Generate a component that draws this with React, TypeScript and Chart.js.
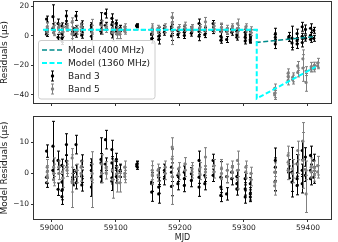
import React, { useEffect, useRef } from "react";
import { Chart, registerables } from "chart.js";
Chart.register(...registerables);

const FONT = "'DejaVu Sans', sans-serif";

const xTicks = [59000, 59100, 59200, 59300, 59400];
const topYTicks = [20, 0, -20, -40];
const botYTicks = [10, 0, -10];

const model400Mjd = [58987, 59320, 59320, 59412];
const model400Res = [4, 4, -4.5, -0.5];
const model1360Mjd = [58987, 59320, 59320, 59412];
const model1360Res = [4, 4, -42.4, -21];

const b3Mjd = [
  58992, 58992, 58992, 59002, 59002, 59010, 59010, 59016, 59016, 59016, 59016, 59023, 59023, 59033, 59033,
  59038, 59038, 59038, 59047, 59047, 59047, 59062, 59062, 59062, 59077, 59077, 59077, 59084, 59084,
  59094, 59094, 59094, 59094, 59101, 59101, 59101, 59107, 59107, 59133, 59133, 59133, 59156, 59156, 59156,
  59167, 59167, 59167, 59176, 59176, 59187, 59187, 59187, 59197, 59197, 59207, 59207, 59207, 59218, 59218,
  59230, 59230, 59230, 59239, 59239, 59252, 59252, 59264, 59264, 59264, 59273, 59273, 59281, 59281,
  59289, 59289, 59289, 59302, 59302, 59302, 59310, 59310, 59310, 59349, 59349, 59349, 59370, 59370,
  59375, 59375, 59383, 59383, 59383, 59391, 59391, 59391, 59396, 59396, 59404, 59404, 59404, 59409, 59409,
];
const b3Res = [
  11.2, 2.8, 1.0, 12.8, 5.0, 8.2, -1.1, 6.6, 1.2, -1.5, -3.5, 13.3, 8.0, 2.8, 2.0,
  13.3, 4.7, 1.0, 8.0, 3.1, 0.3, 6.7, 5.0, -0.4, 8.5, 7.4, 3.0, 14.9, 7.0,
  11.7, 7.4, 2.6, 1.5, 8.5, 5.8, 3.0, 4.7, 5.0, 7.0, 6.3, 6.8, 1.2, -2.0, 0.7,
  2.8, -0.4, -2.6, 5.0, 2.3, 6.0, 4.4, -0.2, 3.4, 0.7, 4.4, 2.3, 0.1, 3.9, 1.7,
  8.2, 2.8, -0.4, 3.4, 0.7, 8.2, 3.4, 2.8, -0.4, -3.1, 3.0, -2.6, 4.4, 2.3,
  3.0, 0.7, -1.0, 2.3, -1.0, -3.6, 0.7, -2.6, -3.6, 1.0, -1.2, -5.7, -0.8, -1.9,
  -1.6, -4.9, 1.4, -3.4, -5.6, 6.0, -0.4, -4.6, 4.2, -1.7, 5.0, 0.2, -2.5, 3.6, -1.8,
];
const b3ModelRes = [
  7.2, -1.2, -3.0, 8.8, 1.0, 4.2, -5.1, 2.6, -2.8, -5.5, -7.5, 9.3, 4.0, -1.2, -2.0,
  9.3, 0.7, -3.0, 4.0, -0.9, -3.7, 2.7, 1.0, -4.4, 4.5, 3.4, -1.0, 10.9, 3.0,
  7.7, 3.4, -1.4, -2.5, 4.5, 1.8, -1.0, 0.7, 1.0, 3.0, 2.3, 2.8, -2.8, -6.0, -3.3,
  -1.2, -4.4, -6.6, 1.0, -1.7, 2.0, 0.4, -4.2, -0.6, -3.3, 0.4, -1.7, -3.9, -0.1, -2.3,
  4.2, -1.2, -4.4, -0.6, -3.3, 4.2, -0.6, -1.2, -4.4, -7.1, -1.0, -6.6, 0.4, -1.7,
  -1.0, -3.3, -5.0, -1.7, -5.0, -7.6, -3.3, -6.6, -7.6, 4.2, 2.0, -2.5, 1.5, 0.4,
  0.4, -2.8, 3.1, -1.7, -3.9, 7.4, 1.0, -3.3, 5.3, -0.6, 5.8, 1.0, -1.7, 4.2, -1.2,
];
const b3Err = [
  2, 2, 1.5, 8, 3, 3, 2, 2, 2.5, 3, 2.5, 3.5, 2, 2.5, 2,
  3, 2, 2, 2, 2, 2, 2, 2.5, 3, 7, 3, 2, 3, 2,
  3, 2, 2, 3, 2, 2, 2, 2, 2, 1, 1, 1, 3, 3, 2.5,
  3, 2, 3, 2, 2, 6, 3, 3, 2, 2, 2, 2, 2, 2, 2,
  3, 2, 3, 2, 2, 2, 2, 5, 3, 2, 2, 2, 2, 2,
  2, 2, 2, 2, 2, 2, 2, 2, 1.5, 4, 3, 3, 3, 2,
  8, 3, 3, 2, 3, 3, 2, 3, 3, 2, 3, 2, 2, 2, 2,
];

const b5Mjd = [
  58993, 58993, 58993, 59003, 59003, 59003, 59011, 59011, 59017, 59017, 59024, 59024,
  59032, 59032, 59032, 59039, 59039, 59046, 59046, 59063, 59063, 59078, 59078, 59085, 59085,
  59095, 59095, 59102, 59102, 59106, 59106, 59114, 59114, 59114, 59157, 59157, 59166, 59166,
  59177, 59177, 59188, 59188, 59188, 59198, 59198, 59208, 59208, 59219, 59219, 59231, 59231,
  59240, 59240, 59253, 59253, 59265, 59265, 59274, 59274, 59282, 59282, 59290, 59290, 59290,
  59303, 59303, 59311, 59311, 59348, 59348, 59348, 59369, 59369, 59369, 59376, 59376,
  59384, 59384, 59392, 59392, 59397, 59397, 59405, 59405, 59410, 59410, 59415, 59415,
];
const b5Res = [
  6, 4.5, 3, 6, 4, 2, 6, 4, 4.5, 2.5, 6, 5,
  9, 1.5, 1, 5, 3, 6, 4, 4, 2, 7, 4, 5.8, 4.2,
  5, 2, 4, 1, 3, 1, 6, 4, 3, 5, 3.5, 5, 3.5,
  6, 4, 12.5, 8.7, 3, 5.5, 4, 7.1, 5, 5.5, 4.5, 5.5, 4,
  9.3, 4.5, 6.5, 4.5, 5.5, 4, 5, 3, 6, 4.5, 8.2, 5, 2,
  6, 4.5, 4, 2, -35.6, -38.8, -40, -25.4, -27.6, -30.2, -28.1, -29.6,
  -20.4, -24.8, -21.8, -15.6, -23.9, -31.5, -21, -22.5, -19.9, -22.4, -18.3, -20.3,
];
const b5ModelRes = [
  2, 0.5, -1, 2, 0, -2, 2, 0, 0.5, -1.5, 2, 1,
  5, -2.5, -3, 1, -1, 2, 0, 0, -2, 3, 0, 1.8, 0.2,
  1, -2, 0, -3, -1, -3, 2, 0, -1, 1, -0.5, 1, -0.5,
  2, 0, 8.5, 4.7, -1, 1.5, 0, 3.1, 1, 1.5, 0.5, 1.5, 0,
  5.3, 0.5, 2.5, 0.5, 1.5, 0, 1, -1, 2, 0.5, 4.2, 1, -2,
  2, 0.5, 0, -2, 0.4, -2.8, -4, 5.8, 3.6, 1, 1.5, 0,
  7.4, 3, 4.2, 10.4, 1, -6.6, 2, 0.5, 2, -0.5, 2.5, 0.5,
];
const b5Err = [
  2.5, 2, 2, 3, 3, 2, 2, 2, 2, 3, 2, 2,
  3, 8.5, 3, 2, 2, 2, 2.5, 3, 9, 3, 3, 2, 2,
  3, 6, 2, 3, 2, 3, 2, 2, 2, 3, 3, 2, 2,
  2, 2, 3, 3, 9, 2, 2, 2, 2, 2, 2, 2, 2,
  3, 2, 2, 2, 3, 2, 2, 2, 2, 2, 3, 2, 3,
  2, 2, 2, 2, 3, 3, 3, 3, 3, 3, 3, 3,
  3, 3, 9, 6, 3, 6, 3, 2, 2, 2, 3, 2,
];

const legendLabels = ["Model (400 MHz)", "Model (1360 MHz)", "Band 3", "Band 5"];

const C_TEAL = "#008b8b";
const C_CYAN = "#00ffff";
const C_B3 = "#000000";
const C_B5 = "#808080";
const C_AXIS = "#333333";
const C_TEXT = "#1a1a1a";

const pts = (xs: number[], ys: number[]) => xs.map((x, i) => ({ x, y: ys[i] }));

const errorBarPlugin = {
  id: "errbars",
  beforeDatasetDraw(chart: any, args: any) {
    const ds = chart.data.datasets[args.index];
    if (!ds.errors) return;
    const ys = chart.scales.y;
    const ctx = chart.ctx;
    const a = chart.chartArea;
    ctx.save();
    ctx.beginPath();
    ctx.rect(a.left, a.top, a.right - a.left, a.bottom - a.top);
    ctx.clip();
    ctx.strokeStyle = ds.errColor;
    ctx.lineWidth = 1;
    ctx.beginPath();
    args.meta.data.forEach((el: any, i: number) => {
      const d = ds.data[i];
      const e = ds.errors[i];
      const px = Math.round(el.x) + 0.5;
      const y1 = ys.getPixelForValue(d.y - e);
      const y2 = ys.getPixelForValue(d.y + e);
      ctx.moveTo(px, y1);
      ctx.lineTo(px, y2);
      ctx.moveTo(px - 1.5, y1);
      ctx.lineTo(px + 1.5, y1);
      ctx.moveTo(px - 1.5, y2);
      ctx.lineTo(px + 1.5, y2);
    });
    ctx.stroke();
    ctx.restore();
  },
};

const framePlugin = {
  id: "frame",
  afterDatasetsDraw(chart: any) {
    const a = chart.chartArea;
    const ctx = chart.ctx;
    ctx.save();
    ctx.strokeStyle = C_AXIS;
    ctx.lineWidth = 1;
    ctx.strokeRect(a.left - 0.5, a.top - 0.5, a.right - a.left + 1, a.bottom - a.top + 1);
    ctx.restore();
  },
};

const legendPlugin = {
  id: "customLegend",
  afterDraw(chart: any) {
    if (!chart.options.plugins.customLegend?.show) return;
    const ctx = chart.ctx;
    ctx.save();
    const x = 38.5, y = 40.5, w = 116.5, h = 58.5, r = 2.5;
    ctx.beginPath();
    ctx.moveTo(x + r, y);
    ctx.lineTo(x + w - r, y);
    ctx.arcTo(x + w, y, x + w, y + r, r);
    ctx.lineTo(x + w, y + h - r);
    ctx.arcTo(x + w, y + h, x + w - r, y + h, r);
    ctx.lineTo(x + r, y + h);
    ctx.arcTo(x, y + h, x, y + h - r, r);
    ctx.lineTo(x, y + r);
    ctx.arcTo(x, y, x + r, y, r);
    ctx.closePath();
    ctx.fillStyle = "rgba(255,255,255,0.85)";
    ctx.fill();
    ctx.strokeStyle = "#cccccc";
    ctx.lineWidth = 1;
    ctx.stroke();

    const rows = [50, 63, 76, 89];
    // line handles
    const lineStyles = [
      { c: C_TEAL, w: 1.6 },
      { c: C_CYAN, w: 2 },
    ];
    lineStyles.forEach((s, i) => {
      ctx.beginPath();
      ctx.setLineDash([5, 2.5]);
      ctx.strokeStyle = s.c;
      ctx.lineWidth = s.w;
      ctx.moveTo(42, rows[i]);
      ctx.lineTo(62, rows[i]);
      ctx.stroke();
    });
    ctx.setLineDash([]);
    // errorbar handles
    [C_B3, C_B5].forEach((c, j) => {
      const cy = rows[2 + j];
      const cx = 52.5;
      ctx.strokeStyle = c;
      ctx.lineWidth = 1;
      ctx.beginPath();
      ctx.moveTo(cx, cy - 5);
      ctx.lineTo(cx, cy + 5);
      ctx.moveTo(cx - 1.5, cy - 5);
      ctx.lineTo(cx + 1.5, cy - 5);
      ctx.moveTo(cx - 1.5, cy + 5);
      ctx.lineTo(cx + 1.5, cy + 5);
      ctx.stroke();
      ctx.fillStyle = c;
      ctx.beginPath();
      ctx.arc(cx, cy, 1.7, 0, Math.PI * 2);
      ctx.fill();
    });
    ctx.fillStyle = C_TEXT;
    ctx.font = `9px ${FONT}`;
    ctx.textBaseline = "middle";
    ctx.textAlign = "left";
    legendLabels.forEach((t, i) => ctx.fillText(t, 68, rows[i] + 0.5));
    ctx.restore();
  },
};

type PanelProps = {
  top: number;
  height: number;
  padTop: number;
  xAxisHeight: number;
  showXLabels: boolean;
  yMin: number;
  yMax: number;
  yTicks: number[];
  yTitle: string;
  b3: number[];
  b5: number[];
  withModels: boolean;
};

function Panel(p: PanelProps) {
  const ref = useRef<HTMLCanvasElement | null>(null);
  useEffect(() => {
    if (!ref.current) return;
    const datasets: any[] = [];
    if (p.withModels) {
      datasets.push({
        label: "Model (1360 MHz)",
        data: pts(model1360Mjd, model1360Res),
        showLine: true,
        borderColor: C_CYAN,
        borderWidth: 2,
        borderDash: [5, 2.5],
        pointRadius: 0,
        order: 1,
      });
      datasets.push({
        label: "Model (400 MHz)",
        data: pts(model400Mjd, model400Res),
        showLine: true,
        borderColor: C_TEAL,
        borderWidth: 1.6,
        borderDash: [5, 2.5],
        pointRadius: 0,
        order: 2,
      });
    }
    datasets.push({
      label: "Band 5",
      data: pts(b5Mjd, p.b5),
      errors: b5Err,
      errColor: C_B5,
      showLine: false,
      pointRadius: 1.6,
      pointBackgroundColor: C_B5,
      pointBorderWidth: 0,
      order: 3,
    });
    datasets.push({
      label: "Band 3",
      data: pts(b3Mjd, p.b3),
      errors: b3Err,
      errColor: C_B3,
      showLine: false,
      pointRadius: 1.6,
      pointBackgroundColor: C_B3,
      pointBorderWidth: 0,
      order: 4,
    });

    const chart = new Chart(ref.current, {
      type: "scatter",
      data: { datasets },
      plugins: [errorBarPlugin, framePlugin, legendPlugin],
      options: {
        animation: false,
        responsive: false,
        devicePixelRatio: 1,
        events: [],
        layout: { padding: { top: p.padTop, right: 7, left: 0, bottom: 0 }, autoPadding: false },
        plugins: {
          legend: { display: false },
          tooltip: { enabled: false },
          customLegend: { show: p.withModels },
        } as any,
        scales: {
          x: {
            type: "linear",
            min: 58972.4,
            max: 59435.9,
            afterBuildTicks: (s: any) => {
              s.ticks = xTicks.map((v) => ({ value: v }));
            },
            afterFit: (s: any) => {
              s.height = p.xAxisHeight;
              s.paddingLeft = 0;
              s.paddingRight = 0;
            },
            border: { display: false },
            grid: {
              display: true,
              drawOnChartArea: false,
              drawTicks: true,
              tickLength: 3,
              tickColor: C_AXIS,
              lineWidth: 1,
            },
            ticks: {
              color: p.showXLabels ? C_TEXT : "rgba(0,0,0,0)",
              font: { family: FONT, size: 7.5 },
              padding: 2,
              maxRotation: 0,
              autoSkip: false,
              callback: (v: any) => String(v),
            },
            title: {
              display: p.showXLabels,
              text: "MJD",
              color: C_TEXT,
              font: { family: FONT, size: 8, lineHeight: 1 },
              padding: { top: 0, bottom: 0 },
            },
          },
          y: {
            type: "linear",
            min: p.yMin,
            max: p.yMax,
            afterBuildTicks: (s: any) => {
              s.ticks = p.yTicks.map((v) => ({ value: v }));
            },
            afterFit: (s: any) => {
              s.width = 34;
              s.paddingTop = 0;
              s.paddingBottom = 0;
            },
            border: { display: false },
            grid: {
              display: true,
              drawOnChartArea: false,
              drawTicks: true,
              tickLength: 3,
              tickColor: C_AXIS,
              lineWidth: 1,
            },
            ticks: {
              color: C_TEXT,
              font: { family: FONT, size: 7.5 },
              padding: 2,
              autoSkip: false,
              callback: (v: any) => String(v).replace("-", "\u2212"),
            },
            title: {
              display: true,
              text: p.yTitle,
              color: C_TEXT,
              font: { family: FONT, size: 9, lineHeight: 1 },
              padding: { top: 0, bottom: 0 },
            },
          },
        },
      } as any,
    });
    return () => chart.destroy();
  }, []);
  return (
    <canvas
      ref={ref}
      width={338}
      height={p.height}
      style={{ position: "absolute", left: 0, top: p.top, width: 338, height: p.height }}
    />
  );
}

export default function App() {
  return (
    <div
      style={{
        position: "fixed",
        left: 0,
        top: 0,
        width: 338,
        height: 242,
        background: "#ffffff",
        overflow: "hidden",
      }}
    >
      <Panel
        top={0}
        height={110}
        padTop={2}
        xAxisHeight={7}
        showXLabels={false}
        yMin={-45.4}
        yMax={22.7}
        yTicks={topYTicks}
        yTitle={"Residuals (\u03bcs)"}
        b3={b3Res}
        b5={b5Res}
        withModels={true}
      />
      <Panel
        top={110}
        height={132}
        padTop={7}
        xAxisHeight={23}
        showXLabels={true}
        yMin={-14.7}
        yMax={18.2}
        yTicks={botYTicks}
        yTitle={"Model Residuals (\u03bcs)"}
        b3={b3ModelRes}
        b5={b5ModelRes}
        withModels={false}
      />
    </div>
  );
}
